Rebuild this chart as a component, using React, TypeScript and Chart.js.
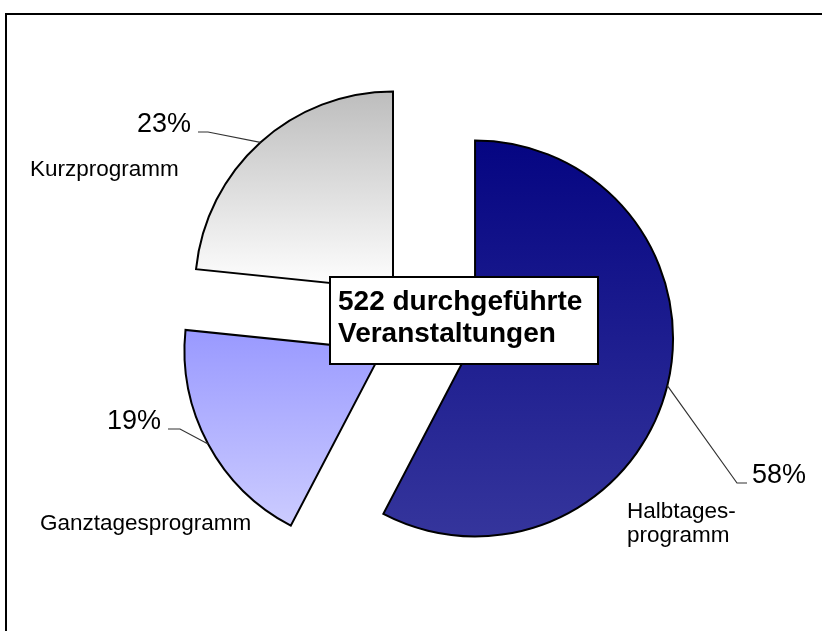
import React, { useEffect, useRef } from 'react';
import { Chart, registerables } from 'chart.js';

Chart.register(...registerables);

// ---- data ----
const categories = ['Halbtagesprogramm', 'Ganztagesprogramm', 'Kurzprogramm'];
const categoryLines = [['Halbtages-', 'programm'], ['Ganztagesprogramm'], ['Kurzprogramm']];
const eventCounts = [301, 99, 122];
const boxWords = ['durchgeführte', 'Veranstaltungen'];

// ---- styles ----
const gradientTop = ['#050582', '#9999ff', '#bdbdbd'];
const gradientBottom = ['#35359c', '#ccccff', '#ffffff'];

const W = 822;
const H = 631;
const RADIUS = 198;
const EXPLODE = 50;
const FONT = '"Liberation Sans", Arial, Helvetica, sans-serif';

const labelLayout = [
  { elbow: [737, 483], end: [747, 483], pctX: 752, pctAlign: 'left', nameX: 627, nameY: [518, 542] },
  { elbow: [180, 429], end: [168, 429], pctX: 161, pctAlign: 'right', nameX: 40, nameY: [530] },
  { elbow: [208, 132], end: [198, 132], pctX: 191, pctAlign: 'right', nameX: 30, nameY: [176] },
];

const total = () => eventCounts.reduce((a, b) => a + b, 0);

function sliceAngles(i: number): [number, number] {
  const t = total();
  let acc = 0;
  for (let k = 0; k < i; k++) acc += eventCounts[k];
  const start = -Math.PI / 2 + (acc / t) * 2 * Math.PI;
  const end = start + (eventCounts[i] / t) * 2 * Math.PI;
  return [start, end];
}

function containsAngle(start: number, end: number, a: number) {
  let t = a;
  while (t < start - 1e-9) t += 2 * Math.PI;
  return t <= end + 1e-9;
}

function sliceYRange(chart: any, i: number): [number, number] {
  const ca = chart.chartArea;
  const [s, e] = sliceAngles(i);
  const mid = (s + e) / 2;
  const cy = (ca.top + ca.bottom) / 2 + Math.sin(mid) * EXPLODE;
  const ys = [cy, cy + RADIUS * Math.sin(s), cy + RADIUS * Math.sin(e)];
  if (containsAngle(s, e, -Math.PI / 2)) ys.push(cy - RADIUS);
  if (containsAngle(s, e, Math.PI / 2)) ys.push(cy + RADIUS);
  return [Math.min(...ys), Math.max(...ys)];
}

const explodePlugin = {
  id: 'explodeSlices',
  afterDatasetsUpdate(chart: any) {
    const meta = chart.getDatasetMeta(0);
    meta.data.forEach((arc: any) => {
      const mid = (arc.startAngle + arc.endAngle) / 2;
      arc.x += Math.cos(mid) * EXPLODE;
      arc.y += Math.sin(mid) * EXPLODE;
    });
  },
};

const decorPlugin = {
  id: 'decor',
  beforeDraw(chart: any) {
    const ctx = chart.ctx;
    ctx.save();
    ctx.fillStyle = '#ffffff';
    ctx.fillRect(0, 0, W, H);
    ctx.strokeStyle = '#000000';
    ctx.lineWidth = 2;
    ctx.strokeRect(6, 14, W + 50, H + 50);
    ctx.restore();
  },
  afterDraw(chart: any) {
    const ctx = chart.ctx;
    const meta = chart.getDatasetMeta(0);
    const t = total();
    ctx.save();
    meta.data.forEach((arc: any, i: number) => {
      const lay = labelLayout[i];
      const mid = (arc.startAngle + arc.endAngle) / 2;
      const ax = arc.x + Math.cos(mid) * arc.outerRadius;
      const ay = arc.y + Math.sin(mid) * arc.outerRadius;
      ctx.strokeStyle = '#333333';
      ctx.lineWidth = 1.2;
      ctx.beginPath();
      ctx.moveTo(ax, ay);
      ctx.lineTo(lay.elbow[0], lay.elbow[1]);
      ctx.lineTo(lay.end[0], lay.end[1]);
      ctx.stroke();

      ctx.fillStyle = '#000000';
      ctx.textBaseline = 'alphabetic';
      ctx.font = `27px ${FONT}`;
      ctx.textAlign = lay.pctAlign as CanvasTextAlign;
      const pct = Math.round((eventCounts[i] / t) * 100) + '%';
      ctx.fillText(pct, lay.pctX, lay.end[1]);

      ctx.font = `22.5px ${FONT}`;
      ctx.textAlign = 'left';
      categoryLines[i].forEach((line, k) => {
        ctx.fillText(line, lay.nameX, lay.nameY[k]);
      });
    });

    // centre box
    ctx.fillStyle = '#ffffff';
    ctx.fillRect(330, 277, 268, 87);
    ctx.strokeStyle = '#000000';
    ctx.lineWidth = 2;
    ctx.strokeRect(330, 277, 268, 87);
    ctx.fillStyle = '#000000';
    ctx.font = `bold 28px ${FONT}`;
    ctx.textAlign = 'left';
    ctx.fillText(`${t} ${boxWords[0]}`, 338, 310);
    ctx.fillText(boxWords[1], 338, 342);
    ctx.restore();
  },
};

export default function App() {
  const ref = useRef<HTMLCanvasElement | null>(null);

  useEffect(() => {
    if (!ref.current) return;
    const chart = new Chart(ref.current, {
      type: 'pie',
      data: {
        labels: categories,
        datasets: [
          {
            data: eventCounts,
            backgroundColor: (c: any) => {
              const i = c.dataIndex ?? 0;
              const chart = c.chart;
              if (!chart.chartArea) return gradientTop[i];
              const [y0, y1] = sliceYRange(chart, i);
              const g = chart.ctx.createLinearGradient(0, y0, 0, y1);
              g.addColorStop(0, gradientTop[i]);
              g.addColorStop(1, gradientBottom[i]);
              return g;
            },
            borderColor: '#000000',
            borderWidth: 2,
            borderJoinStyle: 'miter',
          } as any,
        ],
      },
      options: {
        responsive: false,
        maintainAspectRatio: false,
        animation: false,
        events: [],
        radius: RADIUS,
        layout: { padding: { left: 31, top: 22, right: 0, bottom: 0 } },
        plugins: {
          legend: { display: false },
          tooltip: { enabled: false },
        },
      } as any,
      plugins: [explodePlugin, decorPlugin],
    });
    return () => chart.destroy();
  }, []);

  return (
    <div style={{ position: 'absolute', left: 0, top: 0, width: W, height: H, background: '#fff' }}>
      <canvas ref={ref} width={W} height={H} style={{ display: 'block' }} />
    </div>
  );
}
